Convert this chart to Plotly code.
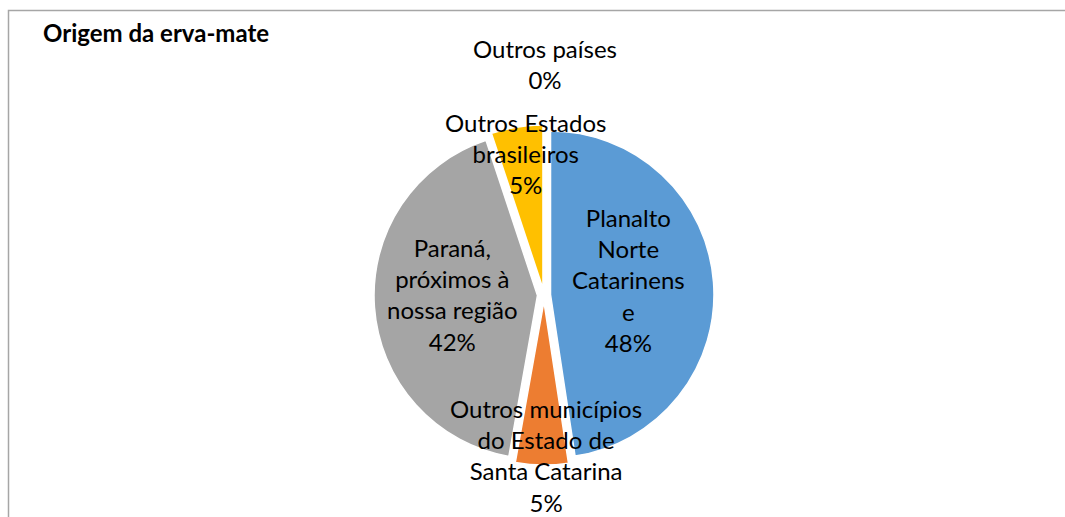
import plotly.graph_objects as go

# Data
categories = ["Planalto Norte Catarinense",
              "Outros municípios do Estado de Santa Catarina",
              "Paraná, próximos à nossa região",
              "Outros Estados brasileiros",
              "Outros países"]
wrapped_labels = ["Planalto<br>Norte<br>Catarinens<br>e",
                  "Outros municípios<br>do Estado de<br>Santa Catarina",
                  "Paraná,<br>próximos à<br>nossa região",
                  "Outros Estados<br>brasileiros",
                  "Outros países"]
values = [47.6, 5.2, 42.1, 5.1, 0.0]
colors = ["#5B9BD5", "#ED7D31", "#A5A5A5", "#FFC000", "#4472C4"]
title_text = "Origem da erva-mate"

W, H = 1065, 517

def px(x):
    return x / W

def py(y):
    return 1 - y / H

fig = go.Figure()
fig.add_trace(go.Pie(
    labels=categories,
    values=values,
    sort=False,
    direction="clockwise",
    rotation=0,
    pull=[0.04] * len(values),
    marker=dict(colors=colors, line=dict(color="white", width=1.5)),
    textinfo="none",
    hoverinfo="label+percent",
    showlegend=False,
    domain=dict(x=[px(373.5), px(714.5)], y=[py(465), py(125)]),
))

total = sum(values)
# label anchor positions (centre of text block, in pixels)
label_pos = [(628, 280), (546, 455), (452, 294), (525, 153), (545, 63.5)]
font_family = "Lato, Open Sans, sans-serif"
for lab, v, (x, y) in zip(wrapped_labels, values, label_pos):
    fig.add_annotation(
        text=f"{lab}<br>{round(v / total * 100)}%",
        x=px(x), y=py(y), xref="paper", yref="paper",
        xanchor="center", yanchor="middle", showarrow=False,
        font=dict(family=font_family, size=24, color="#000000"),
        align="center",
    )

fig.add_annotation(
    text=f"<b>{title_text}</b>",
    x=px(41), y=py(32), xref="paper", yref="paper",
    xanchor="left", yanchor="middle", showarrow=False,
    font=dict(family=font_family, size=24, color="#000000"),
)

# chart frame
fig.add_shape(type="path",
              path=f"M {px(8.5)},0 L {px(8.5)},{py(10.5)} L 1,{py(10.5)}",
              xref="paper", yref="paper",
              line=dict(color="#A6A6A6", width=1.5))

fig.update_layout(
    width=W, height=H,
    margin=dict(l=0, r=0, t=0, b=0),
    paper_bgcolor="white",
    plot_bgcolor="white",
)

fig.write_html("out.html")
